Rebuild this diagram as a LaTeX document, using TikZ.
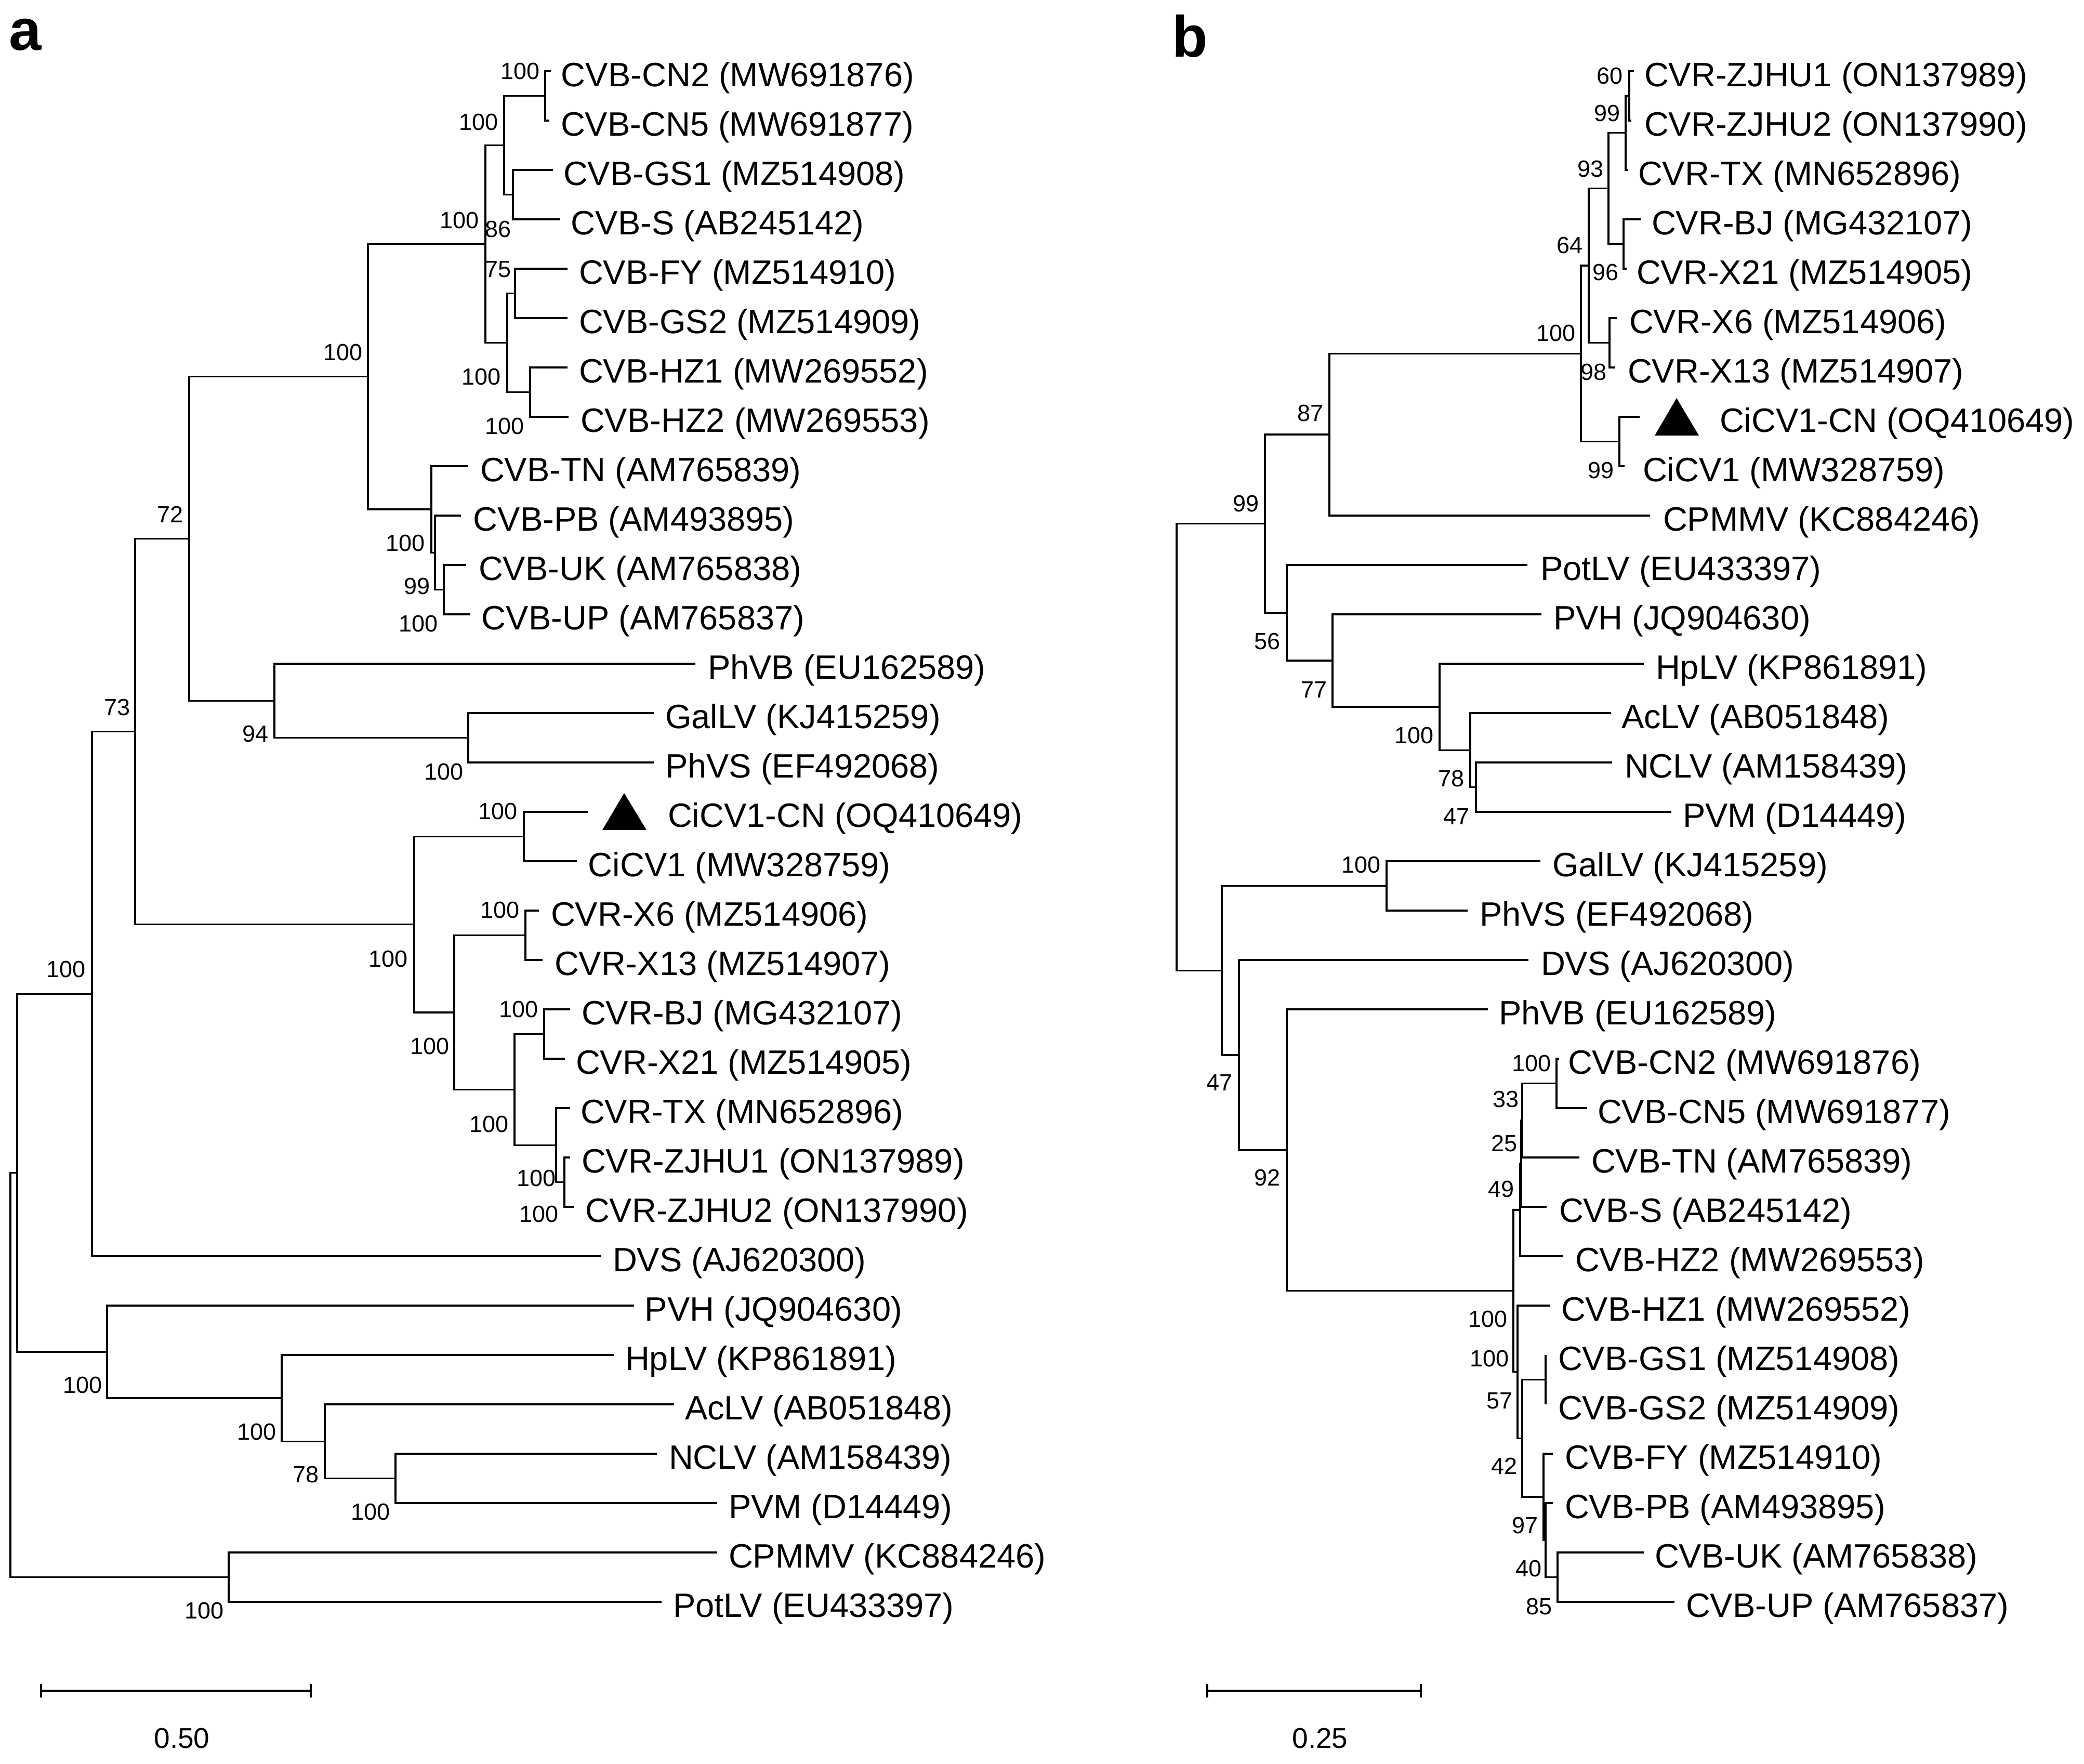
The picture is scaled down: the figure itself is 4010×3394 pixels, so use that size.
\documentclass[tikz,border=0pt]{standalone}
\usepackage{fontspec}
\setmainfont{Liberation Sans}
\newcommand\taxfont{\fontsize{6.5pt}{7pt}\selectfont}
\newcommand\bsfont{\fontsize{4.5pt}{5pt}\selectfont}
\newcommand\scfont{\fontsize{5.5pt}{6pt}\selectfont}
\newcommand\panelfont{\fontsize{11.2pt}{12pt}\selectfont\bfseries}
\newcommand\mytip[5]{%
  \coordinate (#1) at (#2,{137+95*#4});
  \node[tax] (t#1) at (#3,{167+95*#4}) {#5};}
\newcommand\kids[3]{\draw[br] (#2) -| (#1) |- (#3);}
\tikzset{
  br/.style={line width=0.32pt, black, line join=miter},
  tax/.style={anchor=base west, inner sep=0pt, font=\taxfont},
  bs/.style={anchor=east, inner sep=0pt, font=\bsfont},
  sc/.style={anchor=center, inner sep=0pt, font=\scfont},
  marker/.style={fill=black, draw=none},
}
\begin{document}
\begin{tikzpicture}[x=0.1pt,y=-0.1pt]
\fill[white] (0,0) rectangle (4010,3394);
\useasboundingbox (0,0) rectangle (4010,3394);

% ================= Panel a =================
\node[anchor=base west, inner sep=0pt, font=\panelfont] (pa) at (16,97) {a};

% tips
\mytip{aCN2}{1060}{1078}{0}{CVB-CN2 (MW691876)}
\mytip{aCN5}{1057}{1077}{1}{CVB-CN5 (MW691877)}
\mytip{aGS1}{1064}{1082}{2}{CVB-GS1 (MZ514908)}
\mytip{aS}{1077}{1097}{3}{CVB-S (AB245142)}
\mytip{aFY}{1092}{1112}{4}{CVB-FY (MZ514910)}
\mytip{aGS2}{1092}{1112}{5}{CVB-GS2 (MZ514909)}
\mytip{aHZ1}{1092}{1112}{6}{CVB-HZ1 (MW269552)}
\mytip{aHZ2}{1094}{1115}{7}{CVB-HZ2 (MW269553)}
\mytip{aTN}{901}{922}{8}{CVB-TN (AM765839)}
\mytip{aPB}{887}{909}{9}{CVB-PB (AM493895)}
\mytip{aUK}{897}{919}{10}{CVB-UK (AM765838)}
\mytip{aUP}{905}{925}{11}{CVB-UP (AM765837)}
\mytip{aPhVB}{1338}{1360}{12}{PhVB (EU162589)}
\mytip{aGalLV}{1258}{1278}{13}{GalLV (KJ415259)}
\mytip{aPhVS}{1258}{1278}{14}{PhVS (EF492068)}
\mytip{aCiCN}{1131}{1283}{15}{CiCV1-CN (OQ410649)}
\mytip{aCiCV}{1110}{1130}{16}{CiCV1 (MW328759)}
\mytip{aX6}{1037}{1058}{17}{CVR-X6 (MZ514906)}
\mytip{aX13}{1044}{1065}{18}{CVR-X13 (MZ514907)}
\mytip{aBJ}{1097}{1117}{19}{CVR-BJ (MG432107)}
\mytip{aX21}{1087}{1106}{20}{CVR-X21 (MZ514905)}
\mytip{aTX}{1097}{1115}{21}{CVR-TX (MN652896)}
\mytip{aZJ1}{1097}{1117}{22}{CVR-ZJHU1 (ON137989)}
\mytip{aZJ2}{1104}{1124}{23}{CVR-ZJHU2 (ON137990)}
\mytip{aDVS}{1157}{1177}{24}{DVS (AJ620300)}
\mytip{aPVH}{1220}{1239}{25}{PVH (JQ904630)}
\mytip{aHpLV}{1181}{1201}{26}{HpLV (KP861891)}
\mytip{aAcLV}{1297}{1316}{27}{AcLV (AB051848)}
\mytip{aNCLV}{1264}{1285}{28}{NCLV (AM158439)}
\mytip{aPVM}{1380}{1400}{29}{PVM (D14449)}
\mytip{aCPMMV}{1380}{1400}{30}{CPMMV (KC884246)}
\mytip{aPotLV}{1273}{1293}{31}{PotLV (EU433397)}

% internal nodes
\coordinate (aCN) at (1049,184.5);
\coordinate (aGS) at (987,374.5);
\coordinate (aA1) at (970,279.5);
\coordinate (aFG) at (991,564.5);
\coordinate (aHZ) at (1020,754.5);
\coordinate (aB) at (976,659.5);
\coordinate (aA2) at (934,469.5);
\coordinate (aF) at (854,1134.5);
\coordinate (aE) at (837,1063.25);
\coordinate (aD) at (830,980.1);
\coordinate (aC) at (708,724.8);
\coordinate (aI) at (901,1419.5);
\coordinate (aH) at (528,1348.25);
\coordinate (aG) at (364,1036.5);
\coordinate (aL) at (1008,1609.5);
\coordinate (aN) at (1011,1799.5);
\coordinate (aP) at (1047,1989.5);
\coordinate (aRn) at (1086,2274.5);
\coordinate (aQ) at (1070,2203.25);
\coordinate (aO) at (990,2096.4);
\coordinate (aM) at (874,1948);
\coordinate (aK) at (797,1778.7);
\coordinate (aJ) at (260,1407.6);
\coordinate (aV) at (177,1912.3);
\coordinate (aY) at (761,2844.5);
\coordinate (aX) at (625,2773.25);
\coordinate (aW) at (542,2690.1);
\coordinate (aU) at (206,2601);
\coordinate (aT) at (33,2256.7);
\coordinate (aS2) at (440,3034.5);
\coordinate (aR) at (20,2645.6);

\kids{aCN}{aCN2}{aCN5}
\kids{aGS}{aGS1}{aS}
\kids{aA1}{aCN}{aGS}
\kids{aFG}{aFY}{aGS2}
\kids{aHZ}{aHZ1}{aHZ2}
\kids{aB}{aFG}{aHZ}
\kids{aA2}{aA1}{aB}
\kids{aF}{aUK}{aUP}
\kids{aE}{aPB}{aF}
\kids{aD}{aTN}{aE}
\kids{aC}{aA2}{aD}
\kids{aI}{aGalLV}{aPhVS}
\kids{aH}{aPhVB}{aI}
\kids{aG}{aC}{aH}
\kids{aL}{aCiCN}{aCiCV}
\kids{aN}{aX6}{aX13}
\kids{aP}{aBJ}{aX21}
\kids{aRn}{aZJ1}{aZJ2}
\kids{aQ}{aTX}{aRn}
\kids{aO}{aP}{aQ}
\kids{aM}{aN}{aO}
\kids{aK}{aL}{aM}
\kids{aJ}{aG}{aK}
\kids{aV}{aJ}{aDVS}
\kids{aY}{aNCLV}{aPVM}
\kids{aX}{aAcLV}{aY}
\kids{aW}{aHpLV}{aX}
\kids{aU}{aPVH}{aW}
\kids{aT}{aV}{aU}
\kids{aS2}{aCPMMV}{aPotLV}
\kids{aR}{aT}{aS2}

\fill[marker] (1159,1597) -- (1201,1526) -- (1244,1597) -- cycle;

% bootstrap values a
\node[bs] (ba1) at (1041,137) {100};
\node[bs] (ba2) at (961,235) {100};
\node[bs] (ba3) at (986,441) {86};
\node[bs] (ba4) at (924,424) {100};
\node[bs] (ba5) at (986,518) {75};
\node[bs] (ba6) at (966,725) {100};
\node[bs] (ba7) at (1011,820) {100};
\node[bs] (ba8) at (700,678) {100};
\node[bs] (ba9) at (820,1045) {100};
\node[bs] (ba10) at (830,1128) {99};
\node[bs] (ba11) at (845,1200) {100};
\node[bs] (ba12) at (355,990) {72};
\node[bs] (ba13) at (519,1412) {94};
\node[bs] (ba14) at (894,1485) {100};
\node[bs] (ba15) at (253,1361) {73};
\node[bs] (ba16) at (787,1845) {100};
\node[bs] (ba17) at (998,1561) {100};
\node[bs] (ba18) at (867,2013) {100};
\node[bs] (ba19) at (1002,1751) {100};
\node[bs] (ba20) at (981,2163) {100};
\node[bs] (ba21) at (1038,1942) {100};
\node[bs] (ba22) at (1072,2267) {100};
\node[bs] (ba23) at (1077,2336) {100};
\node[bs] (ba24) at (167,1865) {100};
\node[bs] (ba25) at (199,2665) {100};
\node[bs] (ba26) at (534,2755) {100};
\node[bs] (ba27) at (616,2837) {78};
\node[bs] (ba28) at (753,2909) {100};
\node[bs] (ba29) at (433,3099) {100};

% scale bar a
\coordinate (sa1) at (79,3253);
\coordinate (sa2) at (598,3253);
\draw[br] (sa1) -- (sa2);
\draw[br] (79,3240) -- (79,3266);
\draw[br] (598,3240) -- (598,3266);
\node[sc] (sla) at (350,3345) {0.50};

% ================= Panel b =================
\node[anchor=base west, inner sep=0pt, font=\panelfont] (pb) at (2253,110) {b};

\mytip{bZJ1}{3144}{3162}{0}{CVR-ZJHU1 (ON137989)}
\mytip{bZJ2}{3139}{3162}{1}{CVR-ZJHU2 (ON137990)}
\mytip{bTX}{3132}{3150}{2}{CVR-TX (MN652896)}
\mytip{bBJ}{3157}{3176}{3}{CVR-BJ (MG432107)}
\mytip{bX21}{3130}{3147}{4}{CVR-X21 (MZ514905)}
\mytip{bX6}{3111}{3133}{5}{CVR-X6 (MZ514906)}
\mytip{bX13}{3108}{3130}{6}{CVR-X13 (MZ514907)}
\mytip{bCiCN}{3155}{3307}{7}{CiCV1-CN (OQ410649)}
\mytip{bCiCV}{3126}{3159}{8}{CiCV1 (MW328759)}
\mytip{bCPMMV}{3175}{3198}{9}{CPMMV (KC884246)}
\mytip{bPotLV}{2939}{2962}{10}{PotLV (EU433397)}
\mytip{bPVH}{2966}{2987}{11}{PVH (JQ904630)}
\mytip{bHpLV}{3163}{3184}{12}{HpLV (KP861891)}
\mytip{bAcLV}{3100}{3118}{13}{AcLV (AB051848)}
\mytip{bNCLV}{3102}{3124}{14}{NCLV (AM158439)}
\mytip{bPVM}{3216}{3236}{15}{PVM (D14449)}
\mytip{bGalLV}{2964}{2985}{16}{GalLV (KJ415259)}
\mytip{bPhVS}{2824}{2845}{17}{PhVS (EF492068)}
\mytip{bDVS}{2941}{2963}{18}{DVS (AJ620300)}
\mytip{bPhVB}{2863}{2882}{19}{PhVB (EU162589)}
\mytip{bCN2}{3000}{3015}{20}{CVB-CN2 (MW691876)}
\mytip{bCN5}{3054}{3072}{21}{CVB-CN5 (MW691877)}
\mytip{bTN}{3039}{3060}{22}{CVB-TN (AM765839)}
\mytip{bS}{2976}{2998}{23}{CVB-S (AB245142)}
\mytip{bHZ2}{3008}{3029}{24}{CVB-HZ2 (MW269553)}
\mytip{bHZ1}{2982}{3002}{25}{CVB-HZ1 (MW269552)}
\mytip{bGS1}{2974}{2996}{26}{CVB-GS1 (MZ514908)}
\mytip{bGS2}{2974}{2996}{27}{CVB-GS2 (MZ514909)}
\mytip{bFY}{2988}{3009}{28}{CVB-FY (MZ514910)}
\mytip{bPB}{2988}{3009}{29}{CVB-PB (AM493895)}
\mytip{bUK}{3163}{3182}{30}{CVB-UK (AM765838)}
\mytip{bUP}{3222}{3242}{31}{CVB-UP (AM765837)}

\coordinate (bn1) at (3135,184.5);
\coordinate (bn2) at (3128,255.75);
\coordinate (bn4) at (3124,469.5);
\coordinate (bn3) at (3095,362.6);
\coordinate (bn6) at (3097,659.5);
\coordinate (bn5) at (3057,511);
\coordinate (bn8) at (3116,849.5);
\coordinate (bn7) at (3042,680.3);
\coordinate (bn9) at (2558,836.1);
\coordinate (bn15) at (2840,1514.5);
\coordinate (bn14) at (2829,1443.25);
\coordinate (bn13) at (2770,1360.1);
\coordinate (bn12) at (2564,1271);
\coordinate (bn11) at (2476,1179);
\coordinate (bn10) at (2434,1007.6);
\coordinate (bn17) at (2668,1704.5);
\coordinate (bc1) at (2995,2084.5);
\coordinate (bc2) at (2929,2155.75);
\coordinate (bc3) at (2927,2238.9);
\coordinate (bc4) at (2925,2328);
\coordinate (bg) at (2974,2654.5);
\coordinate (bu1) at (2997,3034.5);
\coordinate (bu2) at (2974,2963.25);
\coordinate (bu3) at (2970,2880.1);
\coordinate (bu4) at (2929,2767.3);
\coordinate (bu5) at (2920,2639.7);
\coordinate (bn20) at (2912,2483.9);
\coordinate (bn19) at (2476,2213);
\coordinate (bn18) at (2384,2030);
\coordinate (bn16) at (2351,1867.25);
\coordinate (bb0) at (2264,1437.4);

\kids{bn1}{bZJ1}{bZJ2}
\kids{bn2}{bn1}{bTX}
\kids{bn4}{bBJ}{bX21}
\kids{bn3}{bn2}{bn4}
\kids{bn6}{bX6}{bX13}
\kids{bn5}{bn3}{bn6}
\kids{bn8}{bCiCN}{bCiCV}
\kids{bn7}{bn5}{bn8}
\kids{bn9}{bn7}{bCPMMV}
\kids{bn15}{bNCLV}{bPVM}
\kids{bn14}{bAcLV}{bn15}
\kids{bn13}{bHpLV}{bn14}
\kids{bn12}{bPVH}{bn13}
\kids{bn11}{bPotLV}{bn12}
\kids{bn10}{bn9}{bn11}
\kids{bn17}{bGalLV}{bPhVS}
\kids{bc1}{bCN2}{bCN5}
\kids{bc2}{bc1}{bTN}
\kids{bc3}{bc2}{bS}
\kids{bc4}{bc3}{bHZ2}
\kids{bg}{bGS1}{bGS2}
\kids{bu1}{bUK}{bUP}
\kids{bu2}{bPB}{bu1}
\kids{bu3}{bFY}{bu2}
\kids{bu4}{bg}{bu3}
\kids{bu5}{bHZ1}{bu4}
\kids{bn20}{bc4}{bu5}
\kids{bn19}{bPhVB}{bn20}
\kids{bn18}{bDVS}{bn19}
\kids{bn16}{bn17}{bn18}
\kids{bb0}{bn10}{bn16}

\fill[marker] (3184,838) -- (3226,766) -- (3269,838) -- cycle;

% bootstrap values b
\node[bs] (bb1) at (3125,146) {60};
\node[bs] (bb2) at (3120,218) {99};
\node[bs] (bb3) at (3088,325) {93};
\node[bs] (bb4) at (3117,524) {96};
\node[bs] (bb5) at (3048,472) {64};
\node[bs] (bb6) at (3094,716) {98};
\node[bs] (bb7) at (3034,641) {100};
\node[bs] (bb8) at (3108,905) {99};
\node[bs] (bb9) at (2549,795) {87};
\node[bs] (bb10) at (2425,969) {99};
\node[bs] (bb11) at (2466,1234) {56};
\node[bs] (bb12) at (2556,1327) {77};
\node[bs] (bb13) at (2761,1415) {100};
\node[bs] (bb14) at (2820,1498) {78};
\node[bs] (bb15) at (2830,1571) {47};
\node[bs] (bb16) at (2659,1664) {100};
\node[bs] (bb17) at (2374,2083) {47};
\node[bs] (bb18) at (2466,2266) {92};
\node[bs] (bb19) at (2987,2046) {100};
\node[bs] (bb20) at (2925,2115) {33};
\node[bs] (bb21) at (2922,2200) {25};
\node[bs] (bb22) at (2916,2288) {49};
\node[bs] (bb23) at (2903,2538) {100};
\node[bs] (bb24) at (2906,2614) {100};
\node[bs] (bb25) at (2913,2695) {57};
\node[bs] (bb26) at (2922,2821) {42};
\node[bs] (bb27) at (2962,2935) {97};
\node[bs] (bb28) at (2969,3018) {40};
\node[bs] (bb29) at (2989,3091) {85};

% scale bar b
\coordinate (sb1) at (2323,3253);
\coordinate (sb2) at (2734,3253);
\draw[br] (sb1) -- (sb2);
\draw[br] (2323,3240) -- (2323,3266);
\draw[br] (2734,3240) -- (2734,3266);
\node[sc] (slb) at (2540,3345) {0.25};
\end{tikzpicture}
\end{document}
